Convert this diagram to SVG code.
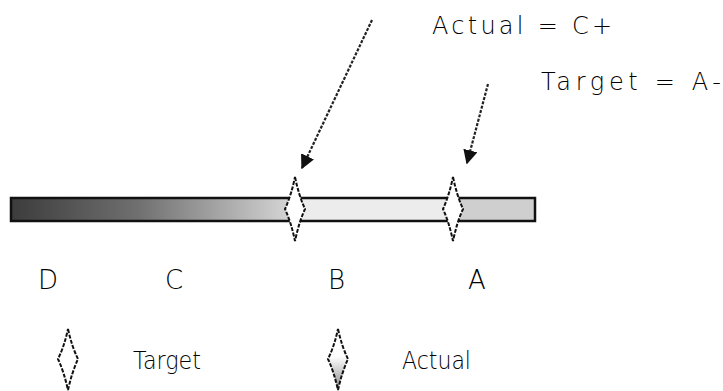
<svg xmlns="http://www.w3.org/2000/svg" width="723" height="391" viewBox="0 0 723 391">
<style>
  text { font-family: "DejaVu Sans", "Liberation Sans", Arial, sans-serif; fill: #000; font-weight: 300; }
  .lbl { font-size: 24px; }
  .leg { font-size: 25px; }
  .grade { font-size: 26px; }
  .dia { stroke: #111; stroke-width: 2; stroke-dasharray: 4 1.5; }
  .conn { stroke: #222; stroke-width: 2.2; stroke-dasharray: 3 1.5; fill: none; }
</style>
<defs>
  <linearGradient id="barGrad" x1="11" y1="0" x2="295" y2="0" gradientUnits="userSpaceOnUse">
    <stop offset="0" stop-color="#3c3c3c"/>
    <stop offset="0.45" stop-color="#707070"/>
    <stop offset="1" stop-color="#d8d8d8"/>
  </linearGradient>
  <linearGradient id="actGrad" x1="0" y1="0" x2="0" y2="1">
    <stop offset="0.45" stop-color="#ffffff"/>
    <stop offset="1" stop-color="#8a8a8a"/>
  </linearGradient>
  <marker id="arrow" viewBox="0 0 10 10" refX="9" refY="5" markerWidth="6.5" markerHeight="6.5" orient="auto" markerUnits="strokeWidth">
    <path d="M0,0 L10,5 L0,10 z" fill="#111"/>
  </marker>
</defs>

<g id="bar">
  <rect x="11" y="198" width="285" height="23" fill="url(#barGrad)"/>
  <rect x="295" y="198" width="158" height="23" fill="#ececec"/>
  <rect x="453" y="198" width="82" height="23" fill="#cfcfcf"/>
  <rect x="11" y="198" width="524" height="23" fill="none" stroke="#111" stroke-width="2.5"/>
</g>

<g id="actual-marker">
  <path class="dia" fill="#ffffff" d="M295,177 Q299,196 305,209 Q299,222 295,241 Q291,222 285,209 Q291,196 295,177 z"/>
</g>
<g id="target-marker">
  <path class="dia" fill="#ffffff" d="M453,177 Q457,196 463,209 Q457,222 453,241 Q449,222 443,209 Q449,196 453,177 z"/>
</g>

<g id="grade-labels">
  <text class="grade" x="38" y="289">D</text>
  <text class="grade" x="165" y="289">C</text>
  <text class="grade" x="328" y="289">B</text>
  <text class="grade" x="468" y="289">A</text>
</g>

<g id="actual-label">
  <text class="lbl" x="432" y="34" textLength="180" lengthAdjust="spacing">Actual = C+</text>
</g>
<g id="target-label">
  <text class="lbl" x="541" y="90" textLength="180" lengthAdjust="spacing">Target = A-</text>
</g>

<g id="connectors">
  <line class="conn" x1="372" y1="20" x2="302" y2="168" marker-end="url(#arrow)"/>
  <line class="conn" x1="488" y1="84" x2="467" y2="163" marker-end="url(#arrow)"/>
</g>

<g id="legend-target">
  <path class="dia" fill="#ffffff" d="M68,329 Q72,347 78,359 Q72,372 68,390 Q64,372 58,359 Q64,347 68,329 z"/>
  <text class="leg" x="133" y="369" textLength="68" lengthAdjust="spacingAndGlyphs">Target</text>
</g>
<g id="legend-actual">
  <path class="dia" fill="url(#actGrad)" d="M338,329 Q342,347 348,359 Q342,372 338,390 Q334,372 328,359 Q334,347 338,329 z"/>
  <text class="leg" x="402" y="369" textLength="69" lengthAdjust="spacingAndGlyphs">Actual</text>
</g>
</svg>
